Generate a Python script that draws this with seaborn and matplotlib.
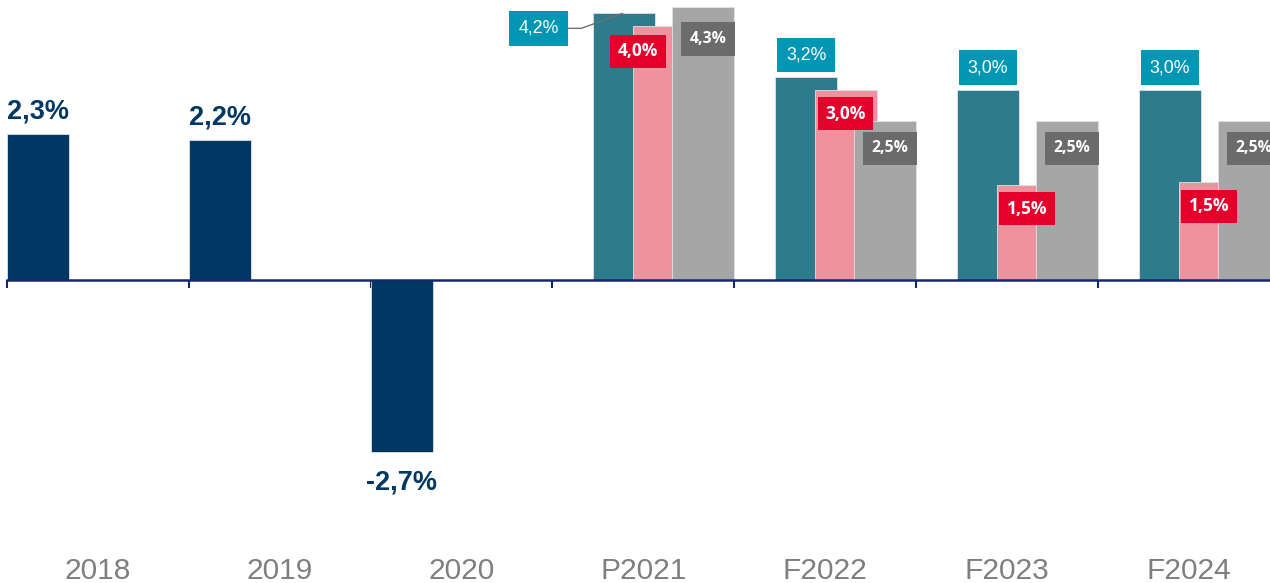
import numpy as np
import pandas as pd
import matplotlib
matplotlib.use("Agg")
import matplotlib.pyplot as plt
import matplotlib.transforms as mtransforms
import seaborn as sns

# Data
years = ["2018", "2019", "2020", "P2021", "F2022", "F2023", "F2024"]
actual = [2.3, 2.2, -2.7]            # 2018-2020
fc_teal = [4.2, 3.2, 3.0, 3.0]       # P2021-F2024
fc_pink = [4.0, 3.0, 1.5, 1.54]
fc_gray = [4.3, 2.5, 2.5, 2.5]

NAVY = "#003763"
TEAL = "#2e7b8b"
PINK = "#ee929e"
GRAY = "#a6a6a6"
TEAL_BOX = "#0096b4"
RED_BOX = "#e4002b"
GRAY_BOX = "#6b6b6b"
AXIS = "#13296b"

sns.set_theme(style="white")
plt.rcParams["font.family"] = ["Liberation Sans", "DejaVu Sans"]

fig = plt.figure(figsize=(12.7, 5.83), dpi=100)
ax = fig.add_axes([0, 0, 1, 1])

bar_w = 0.341
n_act = len(actual)
fc_idx = np.arange(n_act, len(years))

series = [
    (np.arange(n_act), actual, 0.0, NAVY),
    (fc_idx, fc_teal, 0.2255, TEAL),
    (fc_idx, fc_pink, 0.4455, PINK),
    (fc_idx, fc_gray, 0.659, GRAY),
]
centers = []
for z, (idx, vals, off, col) in enumerate(series):
    xs = idx + off + bar_w / 2
    centers.append(xs)
    sns.barplot(x=xs, y=vals, native_scale=True, width=bar_w, color=col,
                saturation=1, errorbar=None, ax=ax,
                edgecolor="#dde3e8", linewidth=0.6, zorder=2 + z)

# axis line at zero with boundary ticks
for s in ["left", "right", "top"]:
    ax.spines[s].set_visible(False)
ax.spines["bottom"].set_position(("data", 0))
ax.spines["bottom"].set_bounds(0, len(years))
ax.spines["bottom"].set_color(AXIS)
ax.spines["bottom"].set_linewidth(1.8)
ax.spines["bottom"].set_zorder(10)
ax.set_xticks(np.arange(len(years) + 1))
ax.set_xticklabels([])
ax.tick_params(axis="x", direction="out", length=5.8, width=1.5, color=AXIS, bottom=True)
ax.set_yticks([])
ax.set_xlabel("")
ax.set_ylabel("")

ax.set_xlim(-0.0385, 6.947)
ax.set_ylim(-4.77, 4.41)

# category labels
trans = mtransforms.blended_transform_factory(ax.transData, ax.transAxes)
for i, yr in enumerate(years):
    ax.text(i + 0.5, 0.007, yr, transform=trans, ha="center", va="baseline",
            fontsize=21.5, color="#7f7f7f")


def fmt(v):
    return f"{v:.1f}%".replace(".", ",")


# navy labels
for x, v in zip(centers[0], actual):
    if v >= 0:
        ax.annotate(fmt(v), (x, v), xytext=(0, 11.5), textcoords="offset points",
                    ha="center", va="baseline", fontsize=19.5, fontweight="bold",
                    color=NAVY, zorder=20)
    else:
        ax.annotate(fmt(v), (x, v), xytext=(0, -13), textcoords="offset points",
                    ha="center", va="top", fontsize=19.5, fontweight="bold",
                    color=NAVY, zorder=20)

# forecast labels
for k, (x, v) in enumerate(zip(centers[1], fc_teal)):
    if k == 0:
        ax.annotate(fmt(v), (x - 0.01, v), xytext=(-60.5, -10.8), textcoords="offset points",
                    ha="center", va="center", fontsize=12.8, color="white", zorder=20,
                    bbox=dict(boxstyle="square,pad=0.5", fc=TEAL_BOX, ec="none"),
                    arrowprops=dict(arrowstyle="-", color="#707070", lw=1,
                                    shrinkA=0, shrinkB=0,
                                    connectionstyle="angle,angleA=0,angleB=20,rad=0"))
    else:
        ax.annotate(fmt(v), (x, v), xytext=(0, 15.8), textcoords="offset points",
                    ha="center", va="center", fontsize=12.8, color="white", zorder=20,
                    bbox=dict(boxstyle="square,pad=0.5", fc=TEAL_BOX, ec="none"))

for k, (x, v) in enumerate(zip(centers[2], fc_pink)):
    dx, dy = (-19, -18) if k == 0 else (-0.7, -17.3)
    ax.annotate(fmt(v), (x, v), xytext=(dx, dy), textcoords="offset points",
                ha="center", va="center", fontsize=12.5, fontweight="bold",
                family=["Open Sans", "DejaVu Sans"], color="white", zorder=21,
                bbox=dict(boxstyle="square,pad=0.43", fc=RED_BOX, ec="none"))

for k, (x, v) in enumerate(zip(centers[3], fc_gray)):
    dx, dy = (3.6, -23) if k == 0 else (3.6, -19.5)
    ax.annotate(fmt(v), (x, v), xytext=(dx, dy), textcoords="offset points",
                ha="center", va="center", fontsize=11.3, fontweight="bold",
                family=["Open Sans", "DejaVu Sans"], color="white", zorder=21,
                bbox=dict(boxstyle="square,pad=0.55", fc=GRAY_BOX, ec="none"))

fig.savefig("out.png", dpi=100)
